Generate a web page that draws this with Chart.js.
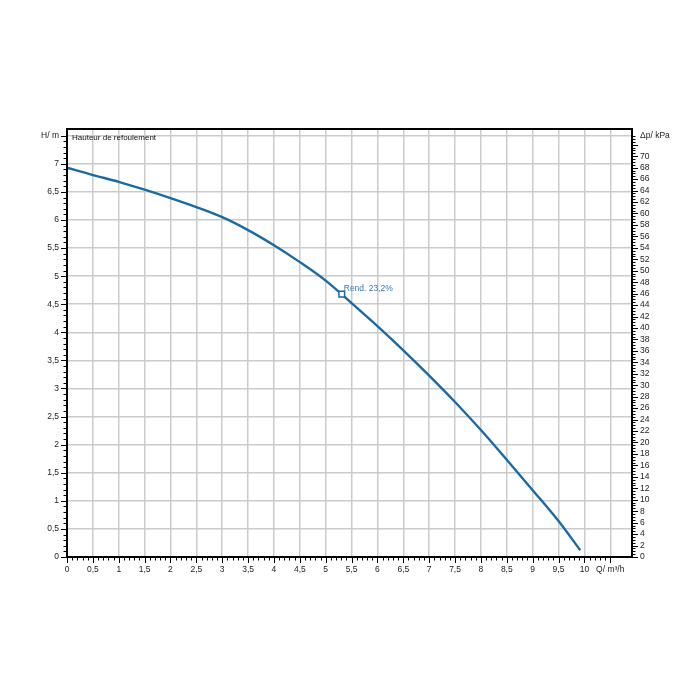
<!DOCTYPE html>
<html>
<head>
<meta charset="utf-8">
<script src="https://cdn.jsdelivr.net/npm/chart.js@4.4.1/dist/chart.umd.min.js"></script>
<style>
  html, body { margin: 0; padding: 0; background: #fff; }
</style>
</head>
<body>
<canvas id="pumpCurveCanvas" width="700" height="700"></canvas>
<script>
// pump curve (Q in m³/h, H in m)
const flowRates = [0, 0.5, 1, 1.5, 2, 2.5, 3, 3.5, 4, 4.5, 5, 5.5, 6, 6.5, 7, 7.5, 8, 8.5, 9, 9.5, 9.92];
const heads = [6.93, 6.80, 6.68, 6.54, 6.39, 6.23, 6.05, 5.82, 5.55, 5.25, 4.92, 4.52, 4.11, 3.68, 3.23, 2.76, 2.26, 1.73, 1.19, 0.64, 0.12];

const dutyFlow = [5.31];
const dutyHead = [4.68];
const dutyLabel = 'Rend. 23,2%';
const curveTitle = 'Hauteur de refoulement';

const flowTicks = [0, 0.5, 1, 1.5, 2, 2.5, 3, 3.5, 4, 4.5, 5, 5.5, 6, 6.5, 7, 7.5, 8, 8.5, 9, 9.5, 10, 10.5];
const headTicks = [0, 0.5, 1, 1.5, 2, 2.5, 3, 3.5, 4, 4.5, 5, 5.5, 6, 6.5, 7, 7.5];
const pressureTicks = [0, 2, 4, 6, 8, 10, 12, 14, 16, 18, 20, 22, 24, 26, 28, 30, 32, 34,
  36, 38, 40, 42, 44, 46, 48, 50, 52, 54, 56, 58, 60, 62, 64, 66, 68, 70];

const flowUnit = 'Q/ m³/h';
const headUnit = 'H/ m';
const pressureUnit = 'Δp/ kPa';

const FLOW_MAX = 10.92;
const HEAD_MAX = 7.62;
const KPA_PER_M = 9.81;

const LINE_BLUE = '#1b6aa2';
const GRID = '#cbcbcb';
const FONT = { family: 'Liberation Sans, Arial, sans-serif', size: 8.5 };

const fmt = v => String(v).replace('.', ',');

// the unit labels sit where the last tick of each axis would be
const unitTick = {
  x: { value: 10.5, label: flowUnit },
  y: { value: 7.5, label: headUnit },
  y2: { value: 7.5 * KPA_PER_M, label: pressureUnit }
};

// minor + major tick marks and the black frame
const frameAndTicks = {
  id: 'frameAndTicks',
  afterDraw(chart) {
    const { ctx, chartArea: a, scales } = chart;
    ctx.save();
    ctx.strokeStyle = '#000';
    ctx.lineWidth = 1;

    const drawTicks = (scale, step, count, majorEvery, side) => {
      for (let i = 0; i <= count; i++) {
        const len = i % majorEvery === 0 ? 6 : 3.5;
        const p = Math.round(scale.getPixelForValue(i * step)) + 0.5;
        ctx.beginPath();
        if (side === 'bottom') { ctx.moveTo(p, a.bottom); ctx.lineTo(p, a.bottom + len); }
        if (side === 'left') { ctx.moveTo(a.left, p); ctx.lineTo(a.left - len, p); }
        if (side === 'right') { ctx.moveTo(a.right, p); ctx.lineTo(a.right + len, p); }
        ctx.stroke();
      }
    };
    drawTicks(scales.x, 0.1, 105, 5, 'bottom');
    drawTicks(scales.y, 0.1, 75, 5, 'left');
    drawTicks(scales.y2, 0.5, 147, 4, 'right');

    ctx.lineWidth = 2;
    ctx.strokeRect(a.left, a.top, a.right - a.left, a.bottom - a.top);

    ctx.fillStyle = '#111';
    ctx.font = '8px "Liberation Sans", Arial, sans-serif';
    ctx.textBaseline = 'top';
    ctx.fillText(curveTitle, a.left + 5, a.top + 5);

    const pt = chart.getDatasetMeta(1).data[0];
    ctx.fillStyle = '#3a76ad';
    ctx.textBaseline = 'alphabetic';
    ctx.font = '8.5px "Liberation Sans", Arial, sans-serif';
    ctx.fillText(dutyLabel, pt.x + 2, pt.y - 3);
    ctx.restore();
  }
};

function setTicks(values) {
  return scale => { scale.ticks = values.map(v => ({ value: v })); };
}

function renderChart() {
  const ctx = document.getElementById('pumpCurveCanvas');
  Chart.defaults.font = FONT;
  Chart.defaults.color = '#222';

  new Chart(ctx, {
    type: 'line',
    data: {
      datasets: [
        {
          data: flowRates.map((q, i) => ({ x: q, y: heads[i] })),
          borderColor: LINE_BLUE,
          borderWidth: 2.4,
          pointRadius: 0,
          cubicInterpolationMode: 'monotone',
          fill: false,
          order: 2
        },
        {
          data: dutyFlow.map((q, i) => ({ x: q, y: dutyHead[i] })),
          showLine: false,
          pointStyle: 'rect',
          pointRadius: 4,
          pointBackgroundColor: '#fff',
          pointBorderColor: LINE_BLUE,
          pointBorderWidth: 1.5,
          order: 1
        }
      ]
    },
    options: {
      responsive: false,
      animation: false,
      layout: { padding: { top: 129, left: 0, right: 0, bottom: 113 } },
      plugins: { legend: { display: false }, tooltip: { enabled: false } },
      scales: {
        x: {
          type: 'linear',
          min: 0,
          max: FLOW_MAX,
          afterBuildTicks: setTicks([...flowTicks.slice(0, -1), unitTick.x.value]),
          afterFit: s => { s.height = 30; },
          ticks: {
            padding: 8,
            maxRotation: 0,
            autoSkip: false,
            callback: v => (v === unitTick.x.value ? unitTick.x.label : fmt(v))
          },
          grid: { color: GRID, lineWidth: 1.5, drawTicks: false },
          border: { display: false }
        },
        y: {
          type: 'linear',
          position: 'left',
          min: 0,
          max: HEAD_MAX,
          afterBuildTicks: setTicks(headTicks),
          afterFit: s => { s.width = 67; },
          ticks: {
            padding: 8,
            autoSkip: false,
            callback: v => (v === unitTick.y.value ? unitTick.y.label : fmt(v))
          },
          grid: { color: GRID, lineWidth: 1.5, drawTicks: false },
          border: { display: false }
        },
        y2: {
          type: 'linear',
          position: 'right',
          min: 0,
          max: HEAD_MAX * KPA_PER_M,
          afterBuildTicks: setTicks([...pressureTicks, unitTick.y2.value]),
          afterFit: s => { s.width = 68; },
          ticks: {
            padding: 8,
            autoSkip: false,
            callback: v => (v === unitTick.y2.value ? unitTick.y2.label : fmt(v))
          },
          grid: { drawOnChartArea: false, drawTicks: false },
          border: { display: false }
        }
      }
    },
    plugins: [frameAndTicks]
  });
}

renderChart();
</script>
</body>
</html>
